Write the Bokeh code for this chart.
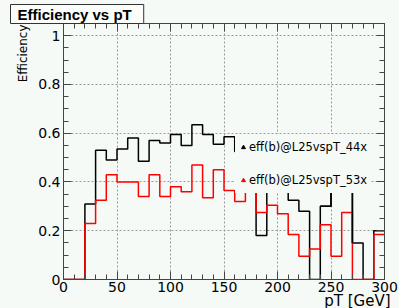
import math
from bokeh.plotting import figure
from bokeh.models import (Range1d, SingleIntervalTicker, LinearAxis, Legend,
                          LegendItem, CustomJSTickFormatter, Title)
from bokeh.embed import file_html
from bokeh.resources import INLINE

# ---- data ----
bin_lo = [0, 10, 20, 30, 40, 50, 60, 70, 80, 90, 100, 110, 120, 130, 140,
          150, 160, 170, 180, 190, 200, 210, 220, 230, 240, 250, 260, 270, 280, 290]
bin_hi_last = 300
eff_44x = [0, 0, 0.31, 0.53, 0.49, 0.535, 0.58, 0.485, 0.57, 0.56, 0.595, 0.55,
           0.635, 0.595, 0.555, 0.585, 0.525, 0.45, 0.18, 0.42, 0.40, 0.325, 0.28,
           0, 0.30, 0.40, 0.40, 0.15, 0, 0.20]
eff_53x = [0, 0, 0.23, 0.325, 0.43, 0.40, 0.40, 0.34, 0.43, 0.34, 0.38, 0.36,
           0.47, 0.335, 0.45, 0.365, 0.32, 0.37, 0.275, 0.305, 0.27, 0.185, 0.095,
           0.125, 0.225, 0.095, 0.275, 0, 0, 0.185]
series_names = ["eff(b)@L25vspT_44x", "eff(b)@L25vspT_53x"]
title_text = "Efficiency vs pT"
x_title = "pT [GeV]"
y_title = "Efficiency"

BG = "#f5faf6"
FRAME = "#444444"
FONT = "DejaVu Sans"

p = figure(width=399, height=308, output_backend="svg", toolbar_location=None,
           x_range=Range1d(0, 300), y_range=Range1d(0, 1.05),
           min_border_left=63, min_border_right=15, min_border_top=23,
           min_border_bottom=29, background_fill_color=BG, border_fill_color=BG)
p.outline_line_color = FRAME

def style_axis(ax, show_labels=True):
    ax.axis_line_color = FRAME
    ax.major_tick_line_color = FRAME
    ax.minor_tick_line_color = FRAME
    ax.major_tick_in = 8
    ax.major_tick_out = 0
    ax.minor_tick_in = 5
    ax.minor_tick_out = 0
    ax.major_label_text_font = FONT
    ax.major_label_text_font_size = "14px"
    ax.major_label_text_color = "black"
    if not show_labels:
        ax.formatter = CustomJSTickFormatter(code="return '';")
        ax.major_label_text_font_size = "0px"
        ax.major_label_standoff = 0

xa = p.xaxis[0]
xa.ticker = SingleIntervalTicker(interval=50, num_minor_ticks=5)
style_axis(xa)
xa.major_label_standoff = 2

ya = p.yaxis[0]
ya.ticker = SingleIntervalTicker(interval=0.2, num_minor_ticks=4)
ya.formatter = CustomJSTickFormatter(code="return (Math.round(tick*10)/10).toString();")
style_axis(ya)
ya.major_label_standoff = 3

top = LinearAxis(ticker=SingleIntervalTicker(interval=50, num_minor_ticks=5))
style_axis(top, show_labels=False)
top.major_label_standoff = 4
p.add_layout(top, "above")
right = LinearAxis(ticker=SingleIntervalTicker(interval=0.2, num_minor_ticks=4))
style_axis(right, show_labels=False)
p.add_layout(right, "right")

for g in (p.xgrid[0], p.ygrid[0]):
    g.grid_line_color = "#9a9a9a"
    g.grid_line_dash = "2 2"
    g.grid_line_width = 1

# ---- axis titles (right / top aligned, ROOT style) ----
p.add_layout(Title(text=x_title, align="right", offset=-6, standoff=-10,
                   text_font=FONT, text_font_size="15px", text_font_style="normal",
                   text_color="black"), "below")
p.add_layout(Title(text=y_title, align="right", offset=1, standoff=12,
                   text_font=FONT, text_font_size="12px", text_font_style="normal",
                   text_color="black"), "left")

# ---- title box ----
p.title = Title(text=title_text, align="left", offset=-53, standoff=0,
                text_font="Liberation Sans", text_font_style="bold",
                text_font_size="15px", text_color="black",
                background_fill_color="#fbfdfb", border_line_color="#333333",
                border_line_width=1,
                padding=dict(left=7, right=12, top=1, bottom=1))

# ---- histograms ----
xs = bin_lo + [bin_hi_last]
y44 = eff_44x + [eff_44x[-1]]
y53 = eff_53x + [eff_53x[-1]]
p.step(xs, y44, mode="after", line_color="black", line_width=1.5)
p.step(xs, y53, mode="after", line_color="#ff0000", line_width=1.5)
# part of the black histogram that is drawn above the legend box
p.step(bin_lo[24:28], eff_44x[24:28], mode="after", line_color="black",
       line_width=1.5, level="overlay")

# legend markers (not plotted, only used as legend glyphs)
nan = [math.nan]
m1 = p.scatter(nan, nan, marker="triangle", size=5, color="black")
m2 = p.scatter(nan, nan, marker="triangle", size=5, color="#ff0000")
legend = Legend(items=[LegendItem(label=series_names[0], renderers=[m1]),
                       LegendItem(label=series_names[1], renderers=[m2])],
                location=(172, 86), background_fill_color=BG, background_fill_alpha=1.0,
                border_line_alpha=0, padding=3, spacing=13, label_height=20,
                glyph_height=20, glyph_width=10, label_standoff=1, margin=0,
                label_text_font=FONT, label_text_font_size="11.5px",
                label_text_color="black")
p.add_layout(legend)

html = file_html(p, INLINE)
html = html.replace("</head>",
                    "<style>html,body{margin:0;padding:0;background:#f5faf6;}</style></head>", 1)
open("out.html", "w").write(html)
